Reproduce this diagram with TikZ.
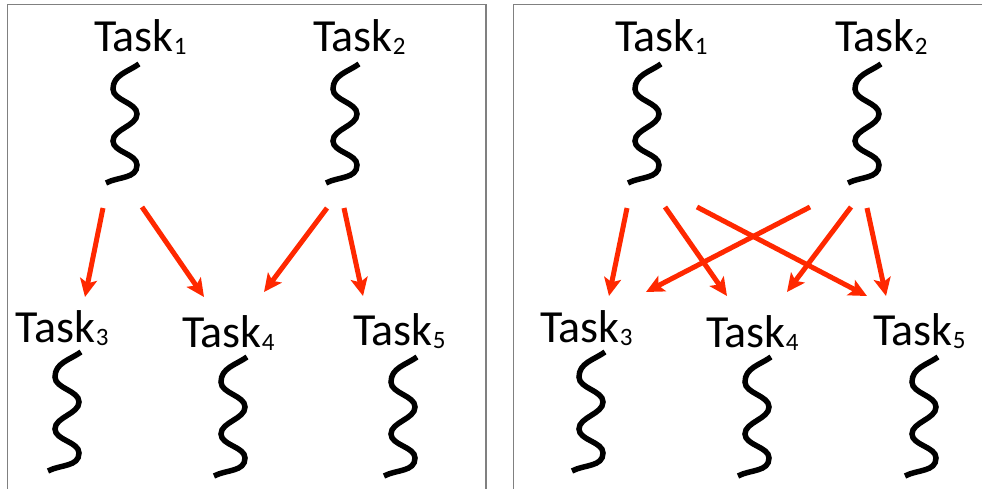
\documentclass[tikz,border=0pt]{standalone}
\usepackage{fontspec}
\setmainfont{Carlito}
\usetikzlibrary{arrows.meta}
\definecolor{depred}{RGB}{255,40,0}
\definecolor{panelgray}{RGB}{128,128,128}
\newcommand\tasklabel[1]{Task\raisebox{-3pt}{\fontsize{25}{25}\selectfont #1}}
\tikzset{
  task/.style={anchor=base west, inner sep=0pt, outer sep=0pt, font=\fontsize{46}{46}\selectfont},
  dep/.style={draw=depred, line width=5pt, -{Stealth[length=18pt,width=17pt,inset=4pt]}},
  panelframe/.style={draw=panelgray, line width=1.4pt},
  squig/.pic={
    \draw[line width=5.5pt, looseness=0.85] (0,0) to[out=215,in=90,looseness=1] (-26,-25)
      to[out=-90,in=90] (-2,-50) to[out=-90,in=90] (-26,-77)
      to[out=-90,in=90] (-2,-101) to[out=-90,in=28,looseness=1] (-33,-119);
  }
}
\begin{document}
\begin{tikzpicture}[x=1pt,y=1pt]
\useasboundingbox (0,0) rectangle (982,-489);
\clip (0,0) rectangle (982,-489);

% panel frames (open at the bottom / right edge)
\draw[panelframe] (7.5,-495) -- (7.5,-4.5) -- (486,-4.5) -- (486,-495);
\draw[panelframe] (513.5,-495) -- (513.5,-4.5) -- (990,-4.5);

% ---- left panel: each task depends on its own producers ----
\node[task] (L1) at (94,-52)  {\tasklabel{1}};
\node[task] (L2) at (313,-52) {\tasklabel{2}};
\node[task] (L3) at (16,-342) {\tasklabel{3}};
\node[task] (L4) at (182,-347) {\tasklabel{4}};
\node[task] (L5) at (353,-345) {\tasklabel{5}};

\pic at (139,-64)  {squig};
\pic at (359,-64)  {squig};
\pic at (81,-352)  {squig};
\pic at (247,-357) {squig};
\pic at (417,-357) {squig};

\coordinate (L13s) at (103,-208); \coordinate (L13t) at (85,-297);
\coordinate (L14s) at (142,-207); \coordinate (L14t) at (204,-297);
\coordinate (L24s) at (327,-208); \coordinate (L24t) at (264,-292);
\coordinate (L25s) at (344,-208); \coordinate (L25t) at (363,-296);
\draw[dep] (L13s) -- (L13t);
\draw[dep] (L14s) -- (L14t);
\draw[dep] (L24s) -- (L24t);
\draw[dep] (L25s) -- (L25t);

% ---- right panel: all-to-all dependencies ----
\node[task] (R1) at (615,-52)  {\tasklabel{1}};
\node[task] (R2) at (835,-52)  {\tasklabel{2}};
\node[task] (R3) at (540,-342) {\tasklabel{3}};
\node[task] (R4) at (706,-347) {\tasklabel{4}};
\node[task] (R5) at (873,-345) {\tasklabel{5}};

\pic at (661,-64)  {squig};
\pic at (881,-64)  {squig};
\pic at (605,-352) {squig};
\pic at (771,-357) {squig};
\pic at (938,-357) {squig};

\coordinate (R13s) at (627,-208); \coordinate (R13t) at (609,-296);
\coordinate (R14s) at (665,-207); \coordinate (R14t) at (727,-296);
\coordinate (R15s) at (697,-207); \coordinate (R15t) at (867,-296);
\coordinate (R23s) at (810,-207); \coordinate (R23t) at (646,-292);
\coordinate (R24s) at (851,-207); \coordinate (R24t) at (787,-292);
\coordinate (R25s) at (867,-208); \coordinate (R25t) at (886,-296);
\draw[dep] (R13s) -- (R13t);
\draw[dep] (R14s) -- (R14t);
\draw[dep] (R15s) -- (R15t);
\draw[dep] (R23s) -- (R23t);
\draw[dep] (R24s) -- (R24t);
\draw[dep] (R25s) -- (R25t);
\end{tikzpicture}
\end{document}
